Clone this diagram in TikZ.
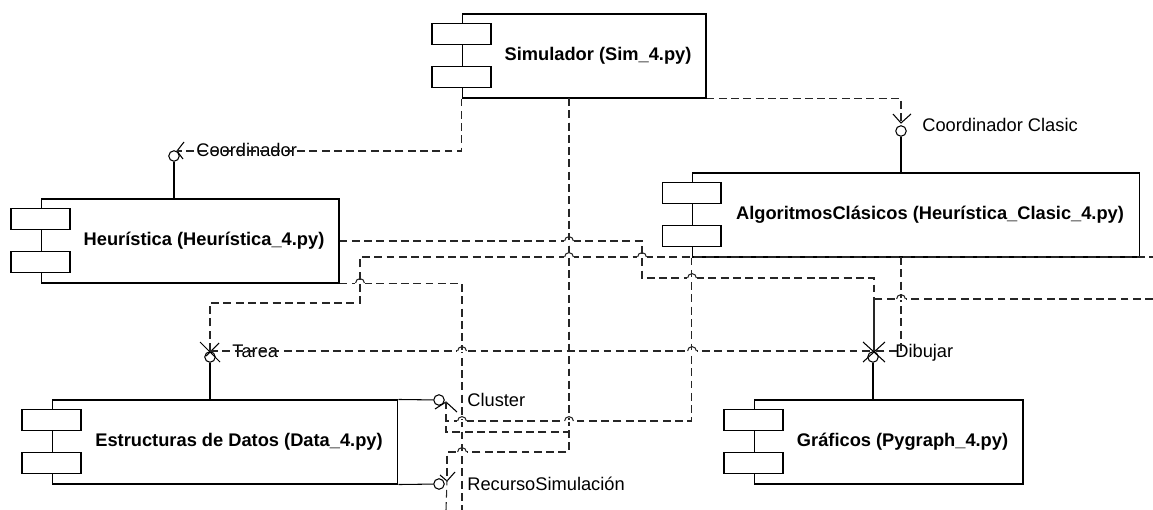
\documentclass[tikz,border=0pt]{standalone}
\usepackage{fontspec}
\setmainfont{Liberation Sans}
\usetikzlibrary{calc}

\begin{document}
\begin{tikzpicture}[
	x=0.02cm, y=-0.02cm,
	% Define the styles for the components, interfaces and dependencies
	comp/.style={draw, line width=0.6pt, fill=white, minimum height=1.68cm,
		font=\fontsize{10.4}{12}\selectfont\bfseries,
		execute at begin node={\hspace*{16pt}}},
	tab/.style={draw, line width=0.6pt, fill=white, minimum width=1.18cm,
		minimum height=0.42cm, inner sep=0pt},
	iface/.style={circle, draw, line width=0.6pt, minimum size=0.21cm, inner sep=0pt},
	lbl/.style={anchor=west, inner sep=0pt, font=\fontsize{10.4}{12}\selectfont},
	dep/.style={line width=0.6pt, black!85, dash pattern=on 4.5pt off 2.5pt},
	stub/.style={line width=0.6pt}
	]
	
	\useasboundingbox (0,0) rectangle (1153,510);
	
	% --- COMPONENTS ---
	% Format: \node[comp, minimum width=w] (name) at (x,y) {text};
	
	\node[comp, minimum width=4.88cm] (sim) at (584,56)  {Simulador (Sim\_4.py)};
	\node[comp, minimum width=5.96cm] (heu) at (190,241) {Heurística (Heurística\_4.py)};
	\node[comp, minimum width=8.96cm] (alg) at (916,215) {AlgoritmosClásicos (Heurística\_Clasic\_4.py)};
	\node[comp, minimum width=6.92cm] (dat) at (225,442) {Estructuras de Datos (Data\_4.py)};
	\node[comp, minimum width=5.38cm] (gra) at (888.5,442) {Gráficos (Pygraph\_4.py)};
	
	% the two small tabs on the left edge of every component
	\foreach \c in {sim,heu,alg,dat,gra} {
		\node[tab] (\c-t1) at ($(\c.north west)+(0,20.5)$) {};
		\node[tab] (\c-t2) at ($(\c.south west)+(0,-21.5)$) {};
	}
	
	% --- INTERFACES ---
	% lollipop circle, its stalk and the socket strokes
	
	\node[iface] (coord-i)  at (174,156) {};
	\node[iface] (clasic-i) at (901,131) {};
	\node[iface] (tarea-i)  at (210,357) {};
	\node[iface] (dib-i)    at (873,357) {};
	\node[iface] (clus-i)   at (439,400) {};
	\node[iface] (rec-i)    at (439,484) {};
	
	\draw[stub] (coord-i) -- (coord-i |- heu.north);
	\draw[stub] (clasic-i) -- (clasic-i |- alg.north);
	\draw[stub] (tarea-i) -- (tarea-i |- dat.north);
	\draw[stub] (dib-i) -- (dib-i |- gra.north);
	\draw[stub] (dat.north east) -- (clus-i);
	\draw[stub] (dat.south east) -- (rec-i);
	
	\coordinate (coord-s)  at (177,151);
	\coordinate (clasic-s) at (901,123);
	\coordinate (tarea-s)  at (210,351);
	\coordinate (dib-s)    at (874,351);
	\coordinate (clus-s)   at (446,402);
	\coordinate (rec-s)    at (447,481);
	
	\draw[stub] (184,142) -- (coord-s) -- (183,159);
	\draw[stub] (893,114) -- (clasic-s) -- (911,114);
	\draw[stub] (200,342) -- (220,362) (219,343) -- (206,356);
	\draw[stub] (863,342) -- (885,362) (885,342) -- (863,362);
	\draw[stub] (435,409) -- (clus-s) -- (457,412);
	\draw[stub] (440,475) -- (rec-s) -- (455,472);
	
	\node[lbl] (coord-l)  at (196,150) {Coordinador};
	\node[lbl] (clasic-l) at (922,125) {Coordinador Clasic};
	\node[lbl] (tarea-l)  at (232,351) {Tarea};
	\node[lbl] (dib-l)    at (895,353) {Dibujar};
	\node[lbl] (clus-l)   at (467,400) {Cluster};
	\node[lbl] (rec-l)    at (467,484) {RecursoSimulación};
	
	% --- DEPENDENCIES ---
	% free ends that leave the picture
	\coordinate (simout)  at (569,98);
	\coordinate (algout)  at (901,257);
	\coordinate (bottom1) at (462,510);
	\coordinate (bottom2) at (446,510);
	\coordinate (right1)  at (1153,257);
	\coordinate (right2)  at (1153,299);
	
	\draw[dep] (sim.south west) |- (coord-s);
	\draw[dep] (sim.south east) -| (clasic-s);
	\draw[dep] (simout) |- (447,452) -- (rec-s);
	\draw[dep] (simout) |- (446,432) -- (clus-s);
	\draw[dep] (heu.east) -- (642,241) |- (874,278) -- (dib-s);
	\draw[dep] (heu.south east) -| (bottom1);
	\draw[dep] (tarea-s) -- (210,303) -| (360,257) -- (right1);
	\draw[dep] (tarea-s) -- (dib-s);
	\draw[dep] (alg.south west) |- (446,421);
	\draw[dep] (algout) |- (dib-s);
	\draw[dep] (right2) -| (dib-s);
	\draw[dep] (bottom2) -- (rec-s);
	
	% line hops where the dependencies cross
	\foreach \hx/\hy in {360/283, 569/241, 569/257, 642/257, 692/278, 901/299,
		462/351, 692/351, 569/421, 462/421, 462/452} {
		\fill[white] ($(\hx,\hy)+(-2.7pt,-0.8pt)$) rectangle ($(\hx,\hy)+(2.7pt,0.8pt)$);
		\draw[line width=0.6pt, black!85] ($(\hx,\hy)+(-2.5pt,0)$) arc[start angle=180, end angle=0, radius=2.5pt];
	}
	
\end{tikzpicture}
\end{document}
